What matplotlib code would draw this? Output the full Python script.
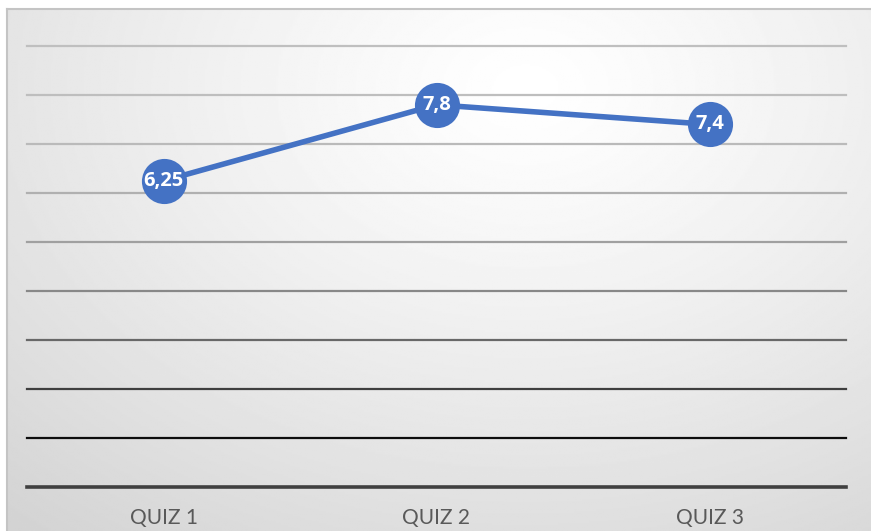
import numpy as np
import matplotlib.pyplot as plt
from matplotlib.colors import LinearSegmentedColormap

# data
quizzes = ["QUIZ 1", "QUIZ 2", "QUIZ 3"]
scores = [6.25, 7.8, 7.4]
labels = ["6,25", "7,8", "7,4"]
grid_levels = list(range(1, 10))

W, H, DPI = 871, 531, 100
fig = plt.figure(figsize=(W / DPI, H / DPI), dpi=DPI)
fig.patch.set_facecolor("white")

# chart area background: soft radial gradient, white near the top middle
bg = fig.add_axes([7 / W, 0, (W - 7) / W, (H - 9) / H])
yy, xx = np.mgrid[0:1:300j, 0:1:500j]
d = np.sqrt(((xx - 0.6) / 1.0) ** 2 + ((yy - 0.15) / 1.2) ** 2)
shade = 1.0 - 0.18 * np.clip(d / 0.95, 0, 1) ** 1.2
cmap = LinearSegmentedColormap.from_list("g", ["black", "white"])
bg.imshow(shade, cmap=cmap, vmin=0, vmax=1, aspect="auto",
          extent=[0, 1, 0, 1], origin="upper")
bg.set_xlim(0, 1); bg.set_ylim(0, 1)
bg.axis("off")
bg.plot([0, 0], [0, 1], color="#c4c4c4", lw=1.5, transform=bg.transAxes, clip_on=False)
bg.plot([0, 1], [1, 1], color="#c4c4c4", lw=1.5, transform=bg.transAxes, clip_on=False)

# plot area
left, right, bottom, top = 27, 846, 487, 46
ax = fig.add_axes([left / W, (H - bottom) / H, (right - left) / W, (bottom - top) / H])
ax.set_facecolor("none")
ax.set_xlim(-0.5, len(quizzes) - 0.5)
ax.set_ylim(0, 9)
for s in ax.spines.values():
    s.set_visible(False)

# gridlines: light at the top, darker towards the baseline
for lvl in grid_levels:
    f = ((9 - lvl) / 8.0) ** 2.5
    g = 0.75 * (1 - f) + 0.05 * f
    ax.axhline(lvl, color=(g, g, g), lw=1.6, zorder=1, clip_on=False)
ax.axhline(0, color="#404040", lw=2.6, zorder=1, clip_on=False)

x = np.arange(len(quizzes))
ax.plot(x, scores, color="#4472C4", lw=4.0, zorder=3,
        marker="o", markersize=32.5, markeredgewidth=0, solid_capstyle="round")
for xi, yi, lab in zip(x, scores, labels):
    ax.text(xi, yi, lab, ha="center", va="center", color="white",
            fontsize=14.5, fontweight="bold", family="Open Sans", zorder=4)

ax.set_yticks([])
ax.set_xticks(x)
ax.set_xticklabels(quizzes, family="Lato", fontsize=15, color="#595959")
ax.tick_params(axis="x", length=0, pad=15)

fig.savefig("out.png", dpi=DPI)
